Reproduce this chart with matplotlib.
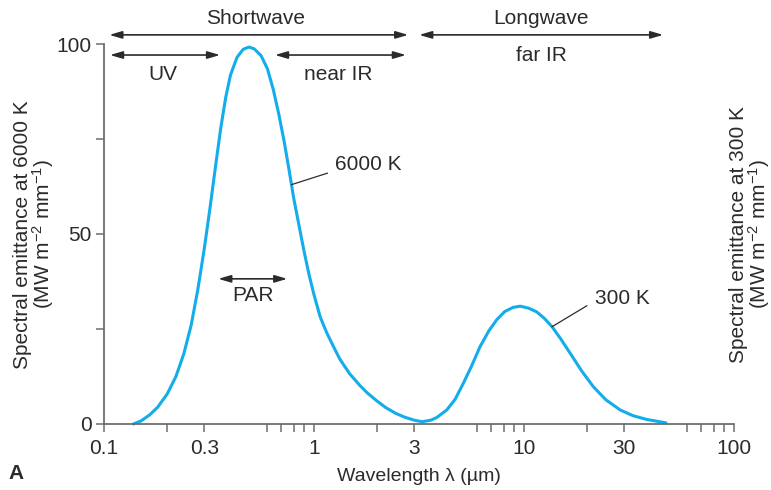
import matplotlib
matplotlib.use("Agg")
import matplotlib.pyplot as plt

plt.rcParams['font.family'] = ['Liberation Sans', 'DejaVu Sans']
plt.rcParams['mathtext.fontset'] = 'custom'
plt.rcParams['mathtext.rm'] = 'Liberation Sans'
plt.rcParams['mathtext.it'] = 'Liberation Sans'

# curve (wavelength um, emittance)
wavelength = [0.138, 0.15, 0.165, 0.18, 0.20, 0.22, 0.24, 0.26, 0.28, 0.30,
              0.32, 0.34, 0.36, 0.38, 0.40, 0.43, 0.46, 0.49, 0.52, 0.56,
              0.60, 0.64, 0.68, 0.72, 0.76, 0.80, 0.85, 0.90, 0.95, 1.00,
              1.07, 1.15, 1.24, 1.33, 1.48, 1.65, 1.80, 2.00, 2.20, 2.45,
              2.70, 3.00, 3.27, 3.60, 3.84, 4.29, 4.70, 5.14, 5.60, 6.17,
              6.80, 7.41, 8.10, 8.89, 9.60, 10.5, 11.5, 12.5, 13.6, 15.0,
              16.6, 18.8, 21.4, 24.5, 28.7, 33.0, 38.4, 47.4]
emittance = [0.0, 0.8, 2.4, 4.4, 7.9, 12.5, 18.5, 26.0, 35.5, 46.0,
             57.0, 68.0, 78.0, 86.0, 91.8, 96.5, 98.6, 99.2, 98.7, 96.9,
             93.5, 88.0, 81.5, 74.5, 67.0, 59.5, 52.0, 45.0, 39.0, 34.0,
             28.2, 24.0, 20.3, 17.0, 13.2, 10.2, 8.1, 6.0, 4.3, 2.8,
             1.8, 1.0, 0.6, 1.0, 1.7, 3.7, 6.5, 10.7, 15.0, 20.3,
             24.5, 27.4, 29.6, 30.7, 31.0, 30.5, 29.5, 27.8, 25.6, 22.3,
             18.6, 14.0, 9.8, 6.4, 3.7, 2.2, 1.2, 0.3]

major_x = [0.1, 0.3, 1, 3, 10, 30, 100]
major_x_labels = ["0.1", "0.3", "1", "3", "10", "30", "100"]
minor_x = [0.2, 0.6, 0.7, 0.8, 0.9, 2, 6, 7, 8, 9, 20, 60, 70, 80, 90]
major_y = [0, 50, 100]
minor_y = [25, 75]

dark = '#2b2b2b'
axis_col = '#6e6e6e'
fs = 15

fig = plt.figure(figsize=(7.71, 4.90), dpi=100)
ax = fig.add_axes([0.1349, 0.1347, 0.8171, 0.7755])
ax.plot(wavelength, emittance, color='#12ADEA', lw=2.2, solid_joinstyle='round',
        solid_capstyle='round', clip_on=False)
ax.set_xscale('log')
ax.set_xlim(0.1, 100)
ax.set_ylim(0, 100)

ax.set_xticks(major_x)
ax.set_xticklabels(major_x_labels)
ax.set_xticks(minor_x, minor=True)
ax.set_xticklabels([], minor=True)
ax.set_yticks(major_y)
ax.set_yticks(minor_y, minor=True)
ax.tick_params(which='both', direction='out', length=6, width=1.1, color=axis_col,
               labelsize=fs, labelcolor=dark)
ax.tick_params(axis='x', which='both', pad=5)
ax.tick_params(axis='y', which='both', pad=3)
for s in ['top', 'right']:
    ax.spines[s].set_visible(False)
for s in ['left', 'bottom']:
    ax.spines[s].set_color(axis_col)
    ax.spines[s].set_linewidth(1.3)

ax.set_xlabel("Wavelength λ (µm)", fontsize=14, color=dark, labelpad=7)

fig.text(0.045, 0.522, "Spectral emittance at 6000 K\n(MW m$^{-2}$ mm$^{-1}$)",
         rotation=90, ha='center', va='center', fontsize=fs, color=dark, linespacing=0.9)
fig.text(0.974, 0.522, "Spectral emittance at 300 K\n(MW m$^{-2}$ mm$^{-1}$)",
         rotation=90, ha='center', va='center', fontsize=fs, color=dark, linespacing=0.9)
fig.text(0.011, 0.022, "A", fontsize=fs, fontweight='bold', color=dark)

arrow = dict(arrowstyle='<|-|>,head_length=0.75,head_width=0.22', color=dark, lw=1.2,
             shrinkA=0, shrinkB=0)

def span(x0, x1, y, label, ty, tx):
    ax.annotate('', xy=(x0, y), xytext=(x1, y), arrowprops=arrow, annotation_clip=False)
    ax.text(tx, ty, label, ha='center', va='center', fontsize=fs, color=dark, clip_on=False)

span(0.106, 2.81, 102.4, "Shortwave", 106.8, 0.524)
span(3.17, 46.0, 102.4, "Longwave", 106.8, 12.1)
span(0.1068, 0.357, 97.1, "UV", 92.1, 0.190)
span(0.652, 2.74, 97.1, "near IR", 92.1, 1.30)
ax.text(12.1, 97.1, "far IR", ha='center', va='center', fontsize=fs, color=dark)
span(0.350, 0.746, 38.2, "PAR", 33.9, 0.514)

ax.plot([0.783, 1.157], [63.0, 66.0], color=dark, lw=0.9)
ax.text(1.259, 68.2, "6000 K", ha='left', va='center', fontsize=fs, color=dark)
ax.plot([13.6, 19.9], [25.6, 31.1], color=dark, lw=0.9)
ax.text(21.9, 33.1, "300 K", ha='left', va='center', fontsize=fs, color=dark)

fig.savefig("out.png", dpi=100)
